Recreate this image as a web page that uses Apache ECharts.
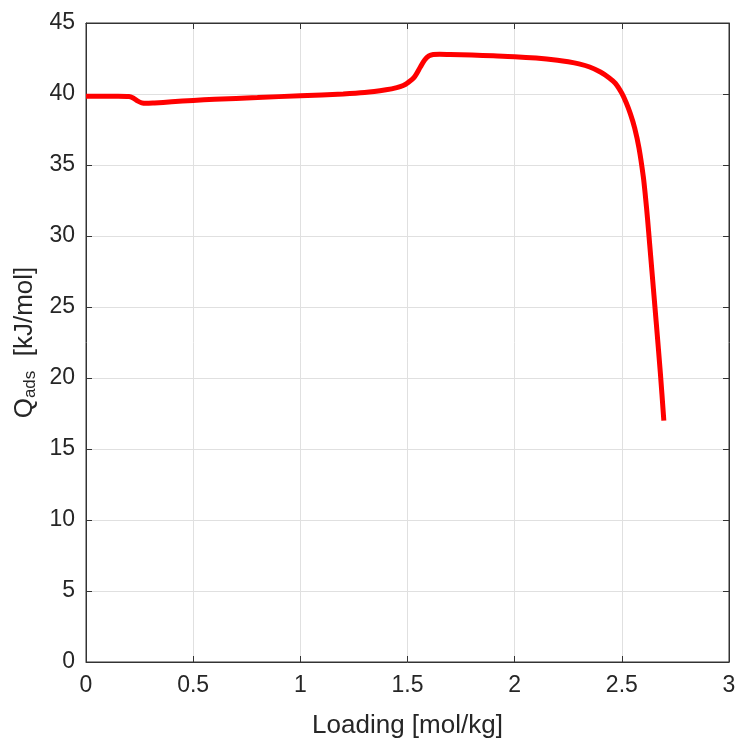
<!DOCTYPE html>
<html>
<head>
<meta charset="utf-8">
<script src="https://cdn.jsdelivr.net/npm/echarts@6/dist/echarts.min.js"></script>
<style>
html,body{margin:0;padding:0;background:#fff;}
#chart{width:739px;height:744px;}
</style>
</head>
<body>
<div id="chart"></div>
<script>
var loading = [0, 0.05, 0.1, 0.15, 0.2, 0.22, 0.24, 0.26, 0.28, 0.32, 0.4, 0.5, 0.6, 0.8, 1.0, 1.2, 1.3, 1.4, 1.45, 1.48, 1.5, 1.53, 1.56, 1.58, 1.6, 1.62, 1.65, 1.7, 1.8, 1.9, 2.0, 2.1, 2.2, 2.25, 2.3, 2.35, 2.4, 2.44, 2.47, 2.5, 2.52, 2.54, 2.56, 2.58, 2.6, 2.61, 2.62, 2.63, 2.64, 2.66, 2.68, 2.696];
var qads = [39.85, 39.85, 39.85, 39.85, 39.83, 39.72, 39.52, 39.38, 39.34, 39.37, 39.45, 39.55, 39.63, 39.75, 39.88, 40.0, 40.1, 40.3, 40.45, 40.6, 40.78, 41.15, 41.9, 42.4, 42.68, 42.78, 42.8, 42.78, 42.74, 42.69, 42.63, 42.53, 42.38, 42.27, 42.12, 41.9, 41.55, 41.15, 40.75, 40.05, 39.4, 38.6, 37.6, 36.2, 34.2, 32.8, 31.2, 29.4, 27.6, 24.0, 20.3, 17.0];
var xName = 'Loading [mol/kg]';
var fontFam = '"Liberation Sans", Arial, sans-serif';

var pts = loading.map(function(x, i){ return [x, qads[i]]; });
var chart = echarts.init(document.getElementById('chart'));
var axisLineStyle = {color:'#333333', width:1};
var tickCommon = {show:true, inside:true, length:6, lineStyle:{color:'#333333', width:1}};
chart.setOption({
  animation:false,
  backgroundColor:'#fff',
  grid:{left:86, right:10, top:23, bottom:80, show:true, borderColor:'#333333', borderWidth:1, backgroundColor:'transparent'},
  xAxis:[{
    type:'value', min:0, max:3, interval:0.5, position:'bottom',
    name:xName, nameLocation:'middle', nameGap:51,
    nameTextStyle:{fontSize:26, color:'#262626', fontFamily:fontFam},
    axisLine:{show:true, onZero:false, lineStyle:axisLineStyle},
    axisTick:tickCommon,
    axisLabel:{fontSize:23, color:'#262626', fontFamily:fontFam, margin:12},
    splitLine:{show:true, lineStyle:{color:'#e0e0e0', width:1}}
  },{
    type:'value', min:0, max:3, interval:0.5, position:'top',
    axisLine:{show:true, onZero:false, lineStyle:axisLineStyle},
    axisTick:tickCommon,
    axisLabel:{show:false}, splitLine:{show:false}
  }],
  yAxis:[{
    type:'value', min:0, max:45, interval:5, position:'left',
    name:'{q|Q}{s|ads}{q|  [kJ/mol]}', nameLocation:'middle', nameGap:46,
    nameTextStyle:{color:'#262626', fontFamily:fontFam,
      rich:{q:{fontSize:26, fontFamily:fontFam, color:'#262626'},
            s:{fontSize:17, fontFamily:fontFam, color:'#262626', verticalAlign:'bottom', padding:[10,0,0,0]}}},
    axisLine:{show:true, onZero:false, lineStyle:axisLineStyle},
    axisTick:tickCommon,
    axisLabel:{fontSize:23, color:'#262626', fontFamily:fontFam, margin:11},
    splitLine:{show:true, lineStyle:{color:'#e0e0e0', width:1}}
  },{
    type:'value', min:0, max:45, interval:5, position:'right',
    axisLine:{show:true, onZero:false, lineStyle:axisLineStyle},
    axisTick:tickCommon,
    axisLabel:{show:false}, splitLine:{show:false}
  }],
  series:[{
    type:'line', data:pts, xAxisIndex:0, yAxisIndex:0,
    smooth:0.3, showSymbol:false, symbol:'none',
    lineStyle:{color:'#ff0000', width:5}
  }]
});
</script>
</body>
</html>
